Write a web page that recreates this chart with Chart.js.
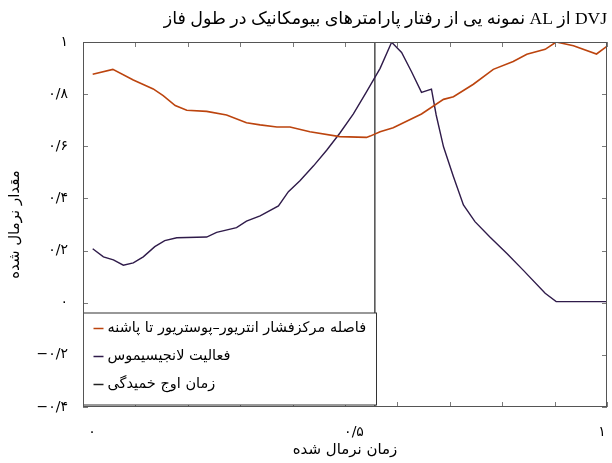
<!DOCTYPE html>
<html>
<head>
<meta charset="utf-8">
<script src="https://cdn.jsdelivr.net/npm/chart.js@4.4.1/dist/chart.umd.min.js"></script>
<style>
html,body{margin:0;padding:0;background:#fff;}
#wrap{width:612px;height:463px;}
</style>
</head>
<body>
<div id="wrap"><canvas id="c" width="612" height="463"></canvas></div>
<script>
// ---- data ----
const titleText = 'نمونه یی از رفتار پارامترهای بیومکانیک در طول فاز AL از DVJ';
const xTitle = 'زمان نرمال شده';
const yTitle = 'مقدار نرمال شده';
const seriesNames = ['فاصله مرکزفشار انتریور–پوستریور تا پاشنه', 'فعالیت لانجیسیموس', 'زمان اوج خمیدگی'];

const copX = [0.0185,0.057,0.096,0.134,0.153,0.176,0.198,0.236,0.274,0.312,0.338,0.370,0.395,0.433,0.490,0.541,0.548,0.567,0.592,0.646,0.688,0.707,0.745,0.783,0.821,0.847,0.882,0.903,0.936,0.980,0.999];
const copY = [0.876,0.895,0.854,0.820,0.794,0.756,0.738,0.734,0.720,0.690,0.682,0.674,0.674,0.656,0.637,0.634,0.639,0.656,0.671,0.724,0.780,0.790,0.838,0.895,0.925,0.953,0.972,1.0,0.986,0.954,0.982];

const lonX = [0.0185,0.039,0.058,0.077,0.096,0.115,0.137,0.156,0.179,0.236,0.255,0.293,0.312,0.338,0.373,0.392,0.414,0.440,0.465,0.490,0.516,0.541,0.567,0.589,0.608,0.627,0.646,0.665,0.674,0.688,0.707,0.726,0.748,0.777,0.809,0.840,0.882,0.903,0.999];
const lonY = [0.207,0.176,0.164,0.144,0.153,0.176,0.215,0.238,0.249,0.252,0.270,0.288,0.313,0.333,0.371,0.426,0.468,0.525,0.585,0.650,0.724,0.809,0.899,0.999,0.960,0.886,0.807,0.819,0.720,0.598,0.483,0.375,0.311,0.251,0.189,0.125,0.036,0.004,0.004];

const peakX = [0.557, 0.557];
const peakY = [-0.4, 1.0];

const xTickValues = [0, 0.5, 1];
const xTickLabels = ['۰', '۰/۵', '۱'];
const yTickLabels = ['−۰/۴', '−۰/۲', '۰', '۰/۲', '۰/۴', '۰/۶', '۰/۸', '۱'];

const colors = ['#bc440e', '#2f1b4a', '#222222'];

const toPts = (xs, ys) => xs.map((x, i) => ({x: x, y: ys[i]}));

const frameTicks = {
  id: 'frameTicks',
  afterDatasetsDraw(chart) {
    const {ctx, chartArea: a, scales} = chart;
    ctx.save();
    ctx.strokeStyle = '#7a7a7a';
    ctx.lineWidth = 1;
    const L = 5;
    scales.x.ticks.forEach(t => {
      const px = Math.round(scales.x.getPixelForValue(t.value)) + 0.5;
      ctx.beginPath();
      ctx.moveTo(px, a.top); ctx.lineTo(px, a.top + L);
      ctx.moveTo(px, a.bottom); ctx.lineTo(px, a.bottom - L);
      ctx.stroke();
    });
    scales.y.ticks.forEach(t => {
      const py = Math.round(scales.y.getPixelForValue(t.value)) + 0.5;
      ctx.beginPath();
      ctx.moveTo(a.left, py); ctx.lineTo(a.left + L, py);
      ctx.moveTo(a.right, py); ctx.lineTo(a.right - L, py);
      ctx.stroke();
    });
    // legend box
    const bx = a.left + 0.5, bw = 293, bh = 92;
    const by = a.bottom - 2 - bh;
    ctx.fillStyle = '#fff';
    ctx.fillRect(bx, by, bw, bh);
    ctx.strokeStyle = '#333';
    ctx.strokeRect(bx, by, bw, bh);
    ctx.font = '14.5px "DejaVu Sans", "Noto Sans", sans-serif';
    ctx.textBaseline = 'middle';
    ctx.textAlign = 'left';
    seriesNames.forEach((name, i) => {
      const cy = by + 15 + i * 28;
      ctx.strokeStyle = colors[i];
      ctx.lineWidth = 1.5;
      ctx.beginPath();
      ctx.moveTo(bx + 10, cy + 0.5); ctx.lineTo(bx + 20, cy + 0.5);
      ctx.stroke();
      ctx.fillStyle = '#000';
      ctx.fillText(name, bx + 24, cy);
    });
    // frame
    ctx.strokeStyle = '#555';
    ctx.lineWidth = 1;
    ctx.strokeRect(a.left + 0.5, a.top + 0.5, a.right - a.left - 1, a.bottom - a.top - 1);
    ctx.restore();
  }
};

new Chart(document.getElementById('c'), {
  type: 'line',
  data: {
    datasets: [
      {label: seriesNames[0], data: toPts(copX, copY), borderColor: colors[0], borderWidth: 1.6, pointRadius: 0, tension: 0},
      {label: seriesNames[1], data: toPts(lonX, lonY), borderColor: colors[1], borderWidth: 1.4, pointRadius: 0, tension: 0},
      {label: seriesNames[2], data: toPts(peakX, peakY), borderColor: colors[2], borderWidth: 1.2, pointRadius: 0, tension: 0}
    ]
  },
  options: {
    responsive: false,
    animation: false,
    layout: {padding: {left: 0, right: 5, top: 0, bottom: 0}},
    plugins: {
      legend: {display: false},
      tooltip: {enabled: false},
      title: {
        display: true, text: titleText, color: '#000', align: 'end',
        font: {family: '"Liberation Serif", "DejaVu Sans", serif', size: 17.5, weight: 'normal'},
        padding: {top: 9, bottom: 12}
      }
    },
    scales: {
      x: {
        type: 'linear', min: 0, max: 1,
        afterFit(s) { s.height = 56; s.paddingLeft = 0; s.paddingRight = 0; },
        grid: {display: false},
        border: {display: false},
        ticks: {
          stepSize: 0.1, autoSkip: false, maxRotation: 0, padding: 9, color: '#000',
          labelOffset: 9,
          font: {family: '"DejaVu Sans", sans-serif', size: 14},
          callback: (v) => {
            const i = xTickValues.findIndex(t => Math.abs(t - v) < 1e-6);
            if (i < 0) return '';
            return i === xTickValues.length - 1 ? xTickLabels[i] + '\u2003\u2003' : xTickLabels[i];
          }
        },
        title: {display: true, text: xTitle, color: '#000', font: {family: '"DejaVu Sans", sans-serif', size: 15}, padding: {top: 0, bottom: 4}}
      },
      y: {
        min: -0.4, max: 1,
        afterFit(s) { s.width = 83; s.paddingTop = 0; s.paddingBottom = 0; },
        grid: {display: false},
        border: {display: false},
        ticks: {
          stepSize: 0.2, padding: 7, color: '#000',
          font: {family: '"DejaVu Sans", sans-serif', size: 14},
          callback: (v, i) => yTickLabels[i]
        },
        title: {display: true, text: yTitle, color: '#000', font: {family: '"DejaVu Sans", sans-serif', size: 15}, padding: {top: 6, bottom: 0}}
      }
    }
  },
  plugins: [frameTicks]
});
</script>
</body>
</html>
